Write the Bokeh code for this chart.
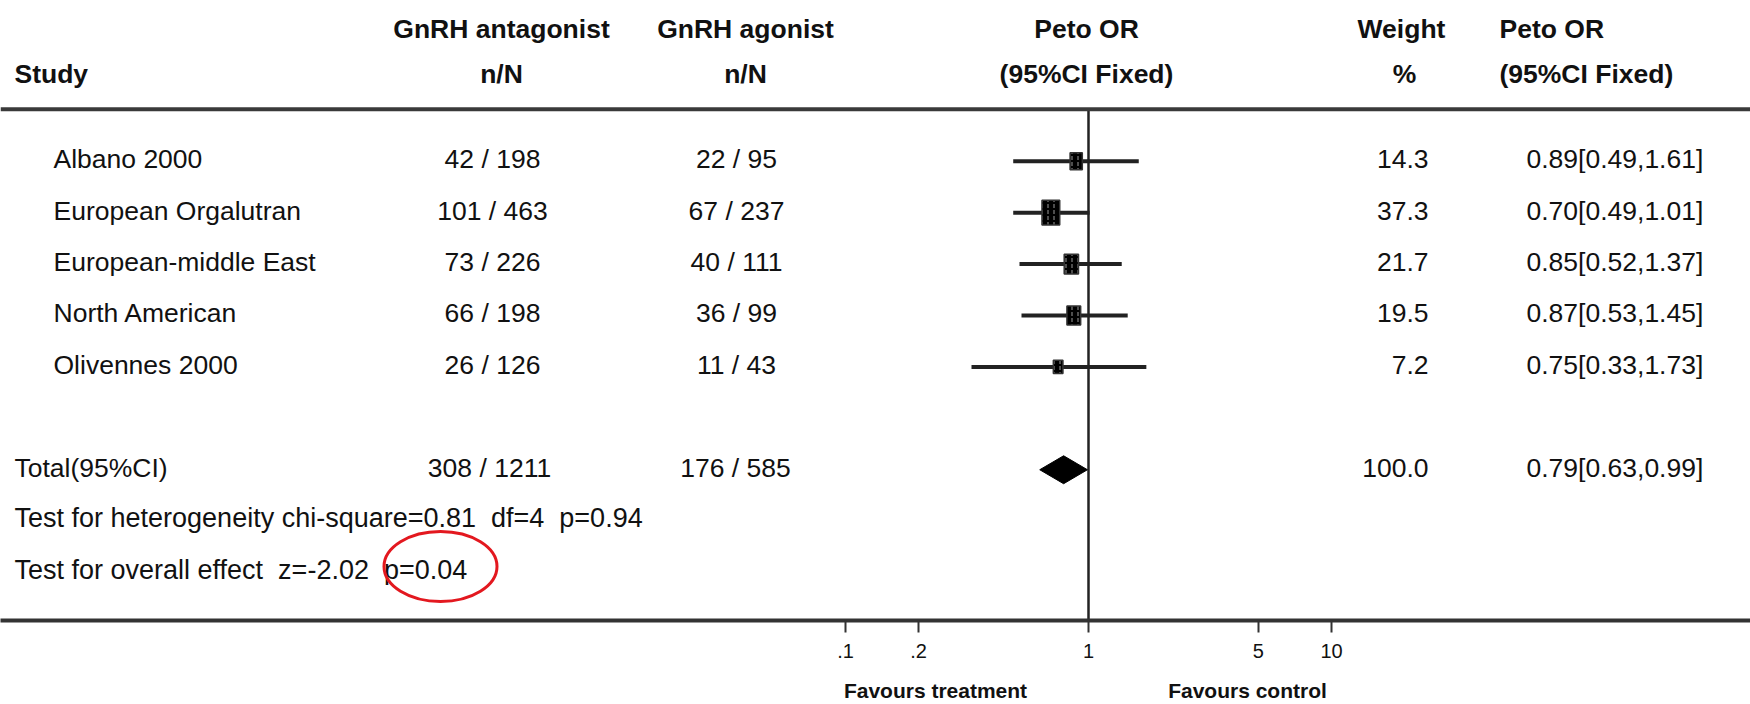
from bokeh.plotting import figure
from bokeh.models import (Range1d, FixedTicker, Span, LinearScale, LogAxis,
                          CustomJSTickFormatter)
from bokeh.embed import file_html
from bokeh.resources import INLINE
from bokeh.core.properties import value
import math

# ---------------- data ----------------
studies = ["Albano 2000", "European Orgalutran", "European-middle East",
           "North American", "Olivennes 2000"]
treat_n = [42, 101, 73, 66, 26]
treat_N = [198, 463, 226, 198, 126]
ctrl_n = [22, 67, 40, 36, 11]
ctrl_N = [95, 237, 111, 99, 43]
peto_or = [0.89, 0.70, 0.85, 0.87, 0.75]
ci_low = [0.49, 0.49, 0.52, 0.53, 0.33]
ci_high = [1.61, 1.01, 1.37, 1.45, 1.73]
weights = [14.3, 37.3, 21.7, 19.5, 7.2]

total_label = "Total(95%CI)"
total_treat = [308, 1211]
total_ctrl = [176, 585]
total_or = [0.79]
total_low = [0.63]
total_high = [0.99]
total_weight = [100.0]

heterogeneity = "Test for heterogeneity chi-square=0.81\u00a0 df=4\u00a0 p=0.94"
overall_text = "Test for overall effect\u00a0 z=-2.02\u00a0 p=0.04"

header_line1 = ["GnRH antagonist", "GnRH agonist", "Peto OR", "Weight", "Peto OR"]
header_line2 = ["Study", "n/N", "n/N", "(95%CI Fixed)", "%", "(95%CI Fixed)"]
tick_values = [0.1, 0.2, 1, 5, 10]
tick_labels = [".1", ".2", "1", "5", "10"]
favours = ["Favours treatment", "Favours control"]

# ---------------- layout constants ----------------
W, H = 1750, 704
PAGE_L, PAGE_R = 0, 1750
X_NULL, DECADE = 1088.0, 243.0          # page x of OR=1, px per decade
ROW0, ROW_H = 161.0, 51.5                # page y of first row, row pitch
AXIS_Y, TOP_Y = 621.0, 0.0
FAV_X = [935, 1247]                      # page x centres of the favours labels


def row_of(page_y):
    return (page_y - ROW0) / ROW_H


def or_of(page_x):
    return 10 ** ((page_x - X_NULL) / DECADE)


FONT = "Liberation Sans"
TXT = "#111111"
BODY = "26.5px"

p = figure(width=W, height=H, x_axis_type="log",
           x_range=Range1d(or_of(PAGE_L), or_of(PAGE_R)),
           y_range=Range1d(row_of(AXIS_Y), row_of(TOP_Y)),
           y_axis_location=None, toolbar_location=None, output_backend="svg",
           min_border_left=0, min_border_right=0, min_border_top=0,
           min_border_bottom=int(H - AXIS_Y))
p.extra_x_ranges = {"px": Range1d(PAGE_L, PAGE_R)}
p.extra_x_scales = {"px": LinearScale()}
p.xgrid.visible = False
p.ygrid.visible = False
p.outline_line_color = None
p.background_fill_color = "white"
p.border_fill_color = "white"


def txt(xs, ys, texts, align="left", bold=False, size=BODY, yoff=-2):
    p.text(x=xs, y=ys, text=texts, x_range_name="px", text_align=align,
           text_baseline="middle", text_font=value(FONT),
           text_font_style="bold" if bold else "normal",
           text_font_size=size, text_color=TXT, y_offset=yoff)


rows = list(range(len(studies)))
total_row = 6
het_row = row_of(520)
ovr_row = row_of(572)
h1_row = row_of(31)
h2_row = row_of(76)
top_rule_row = row_of(109)

# headers
txt([501, 745, 1086, 1401], [h1_row] * 4, header_line1[:4], align="center", bold=True)
txt([1499], [h1_row], header_line1[4:], align="left", bold=True)
txt([14], [h2_row], header_line2[:1], align="left", bold=True)
txt([501, 745, 1086, 1404], [h2_row] * 4, header_line2[1:5], align="center", bold=True)
txt([1499], [h2_row], header_line2[5:], align="left", bold=True)

p.add_layout(Span(location=top_rule_row, dimension="width",
                  line_width=4, line_color="#3a3a3a"))

# study rows
txt([53] * len(studies), rows, studies)
txt([492] * len(studies), rows, [f"{a} / {b}" for a, b in zip(treat_n, treat_N)], align="center")
txt([736] * len(studies), rows, [f"{a} / {b}" for a, b in zip(ctrl_n, ctrl_N)], align="center")
txt([1428] * len(studies), rows, [f"{w:.1f}" for w in weights], align="right")
txt([1526] * len(studies), rows,
    [f"{o:.2f}[{l:.2f},{h:.2f}]" for o, l, h in zip(peto_or, ci_low, ci_high)])

# total row and tests
txt([14], [total_row], [total_label])
txt([489], [total_row], [f"{total_treat[0]} / {total_treat[1]}"], align="center")
txt([735], [total_row], [f"{total_ctrl[0]} / {total_ctrl[1]}"], align="center")
txt([1428], [total_row], [f"{total_weight[0]:.1f}"], align="right")
txt([1526], [total_row], [f"{total_or[0]:.2f}[{total_low[0]:.2f},{total_high[0]:.2f}]"])
txt([14], [het_row], [heterogeneity], size="27px")
txt([14], [ovr_row], [overall_text], size="27px")

p.ellipse(x=[440], y=[row_of(567)], width=113, height=70, width_units="screen",
          height_units="screen", fill_color=None, line_color="#e3181f",
          line_width=3, x_range_name="px")

# null line
p.segment(x0=[1], x1=[1], y0=[top_rule_row], y1=[row_of(AXIS_Y)],
          line_width=2.5, line_color="#222222")

# CIs and boxes
p.segment(x0=ci_low, x1=ci_high, y0=rows, y1=rows, line_width=4, line_color="#222222")
box_h = [4.5 + 3.3 * math.sqrt(w) for w in weights]
box_w = [0.72 * h for h in box_h]
p.rect(x=peto_or, y=rows, width=box_w, height=box_h, width_units="screen",
       height_units="screen", fill_color="#000000", line_color="#333333", line_width=1.5,
       hatch_pattern=":", hatch_color="#9a9a9a", hatch_scale=6, hatch_weight=1)

# diamond
dh = 14 / ROW_H
p.patch(x=[total_low[0], total_or[0], total_high[0], total_or[0]],
        y=[total_row, total_row - dh, total_row, total_row + dh],
        fill_color="#000000", line_color="#000000")

# axis
ax = p.xaxis[0]
ax.ticker = FixedTicker(ticks=tick_values)
ax.major_label_overrides = dict(zip(tick_values, tick_labels))
ax.axis_line_width = 4
ax.axis_line_color = "#333333"
ax.major_tick_line_width = 2
ax.major_tick_line_color = "#333333"
ax.major_tick_out = 12
ax.major_tick_in = 0
ax.minor_tick_line_color = None
ax.major_label_text_font = FONT
ax.major_label_text_font_size = "20px"
ax.major_label_text_color = TXT
ax.major_label_standoff = 11

# second axis carrying the "Favours ..." captions
fav_axis = LogAxis(ticker=FixedTicker(ticks=[or_of(x) for x in FAV_X]),
                   formatter=CustomJSTickFormatter(args=dict(labels=favours),
                                                   code="return labels[index]"),
                   axis_line_color=None, major_tick_line_color=None,
                   minor_tick_line_color=None, major_tick_out=0, major_tick_in=0,
                   minor_tick_out=0, minor_tick_in=0,
                   major_label_standoff=18, major_label_text_font=FONT,
                   major_label_text_font_style="bold",
                   major_label_text_font_size="21px", major_label_text_color=TXT)
p.add_layout(fav_axis, "below")

open("out.html", "w").write(file_html(p, INLINE))
